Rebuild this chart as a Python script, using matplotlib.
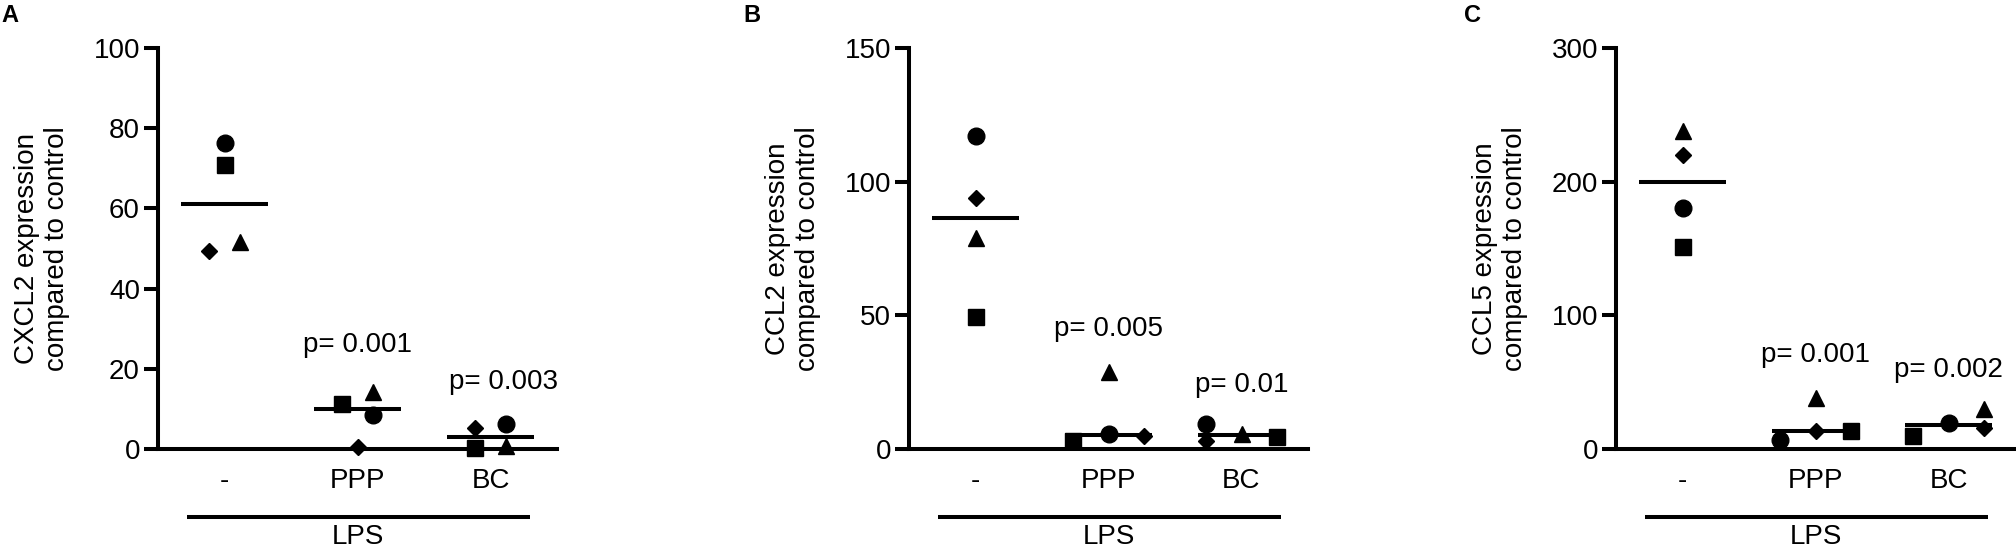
import matplotlib
matplotlib.use("Agg")
import matplotlib.pyplot as plt
import matplotlib.transforms as mtransforms
import numpy as np

plt.rcParams['font.family'] = ['Liberation Sans', 'DejaVu Sans']

# ---------------- data ----------------
categories = ["-", "PPP", "BC"]
donor_markers = ["circle", "square", "triangle", "diamond"]

# values per group, order: circle, square, triangle, diamond
cxcl2_none = [76.2, 70.7, 51.5, 49.4]
cxcl2_ppp = [8.5, 11.3, 14.3, 0.5]
cxcl2_bc = [6.3, 0.3, 0.8, 5.2]

ccl2_none = [117.1, 49.3, 78.8, 94.0]
ccl2_ppp = [5.6, 2.9, 28.7, 4.7]
ccl2_bc = [9.5, 4.4, 5.7, 2.9]

ccl5_none = [180.0, 151.0, 238.0, 220.0]
ccl5_ppp = [7.0, 13.2, 38.4, 13.2]
ccl5_bc = [19.5, 9.5, 29.9, 15.7]

ylabels = ["CXCL2 expression\ncompared to control",
           "CCL2 expression\ncompared to control",
           "CCL5 expression\ncompared to control"]
yticks_list = [[0, 20, 40, 60, 80, 100], [0, 50, 100, 150], [0, 100, 200, 300]]
panel_letters = ["A", "B", "C"]
pvalue_texts = [["p= 0.001", "p= 0.003"], ["p= 0.005", "p= 0.01"], ["p= 0.001", "p= 0.002"]]
group_label = "LPS"

# ---------------- layout / style ----------------
marker_style = {"circle": ("o", 12), "square": ("s", 11.5), "triangle": ("^", 12), "diamond": ("D", 8)}
s, L = 0.12, 0.27
# horizontal spread of points within each group (circle, square, triangle, diamond)
offsets = [
    [[0, 0, s, -s], [s, -s, s, 0], [s, -s, s, -s]],
    [[0, 0, 0, 0], [0, -L, 0, L], [-L, L, 0, -L]],
    [[0, 0, 0, 0], [-L, L, 0, 0], [0, -L, L, L]],
]
pvalue_pos = [[(1.0, 25.9), (2.1, 16.7)], [(1.0, 44.9), (2.0, 24.1)], [(1.0, 70.6), (2.0, 59.4)]]

panels = [
    [cxcl2_none, cxcl2_ppp, cxcl2_bc],
    [ccl2_none, ccl2_ppp, ccl2_bc],
    [ccl5_none, ccl5_ppp, ccl5_bc],
]

W, H = 2016, 550
fig = plt.figure(figsize=(W / 100, H / 100), dpi=100)
lefts = [158, 909, 1616]
ax_w, ax_h = 399, 401
ax_bottom = 101
lw = 2.9
fs = 20

for i, groups in enumerate(panels):
    ax = fig.add_axes([lefts[i] / W, ax_bottom / H, ax_w / W, ax_h / H])
    ax.set_xlim(-0.5, 2.5)
    ax.set_ylim(0, yticks_list[i][-1])
    for sp in ["top", "right"]:
        ax.spines[sp].set_visible(False)
    for sp in ["left", "bottom"]:
        ax.spines[sp].set_linewidth(lw)
        ax.spines[sp].set_capstyle("projecting")
    ax.set_yticks(yticks_list[i])
    ax.tick_params(axis="y", length=10, width=lw, labelsize=fs, pad=3)
    ax.set_xticks(range(len(categories)))
    ax.set_xticklabels(categories)
    ax.tick_params(axis="x", length=0, labelsize=fs, pad=14)

    for g, vals in enumerate(groups):
        med = np.median(vals)
        ax.plot([g - 0.33, g + 0.33], [med, med], color="black", lw=lw, zorder=3,
                solid_capstyle="butt")
        for k, name in enumerate(donor_markers):
            m, ms = marker_style[name]
            ax.plot(g + offsets[i][g][k], vals[k], marker=m, markersize=ms, color="black",
                    linestyle="none", zorder=4, clip_on=False)

    for (px, py), txt in zip(pvalue_pos[i], pvalue_texts[i]):
        ax.text(px, py, txt, ha="center", va="center", fontsize=fs)

    trans = mtransforms.blended_transform_factory(ax.transData, ax.transAxes)
    ax.plot([-0.28, 2.3], [-0.17, -0.17], color="black", lw=lw, transform=trans,
            clip_on=False, solid_capstyle="butt")
    ax.text(1.0, -0.22, group_label, transform=trans, ha="center", va="center", fontsize=fs)

    ax.set_ylabel(ylabels[i], fontsize=fs, linespacing=1.2)
    ax.yaxis.set_label_coords(-0.22, 0.5)

letter_x = [1, 743, 1464]
for lx, letter in zip(letter_x, panel_letters):
    fig.text(lx / W, 1 - 16 / H, letter, ha="left", va="center", fontsize=17, fontweight="bold")

fig.savefig("out.png", dpi=100)
